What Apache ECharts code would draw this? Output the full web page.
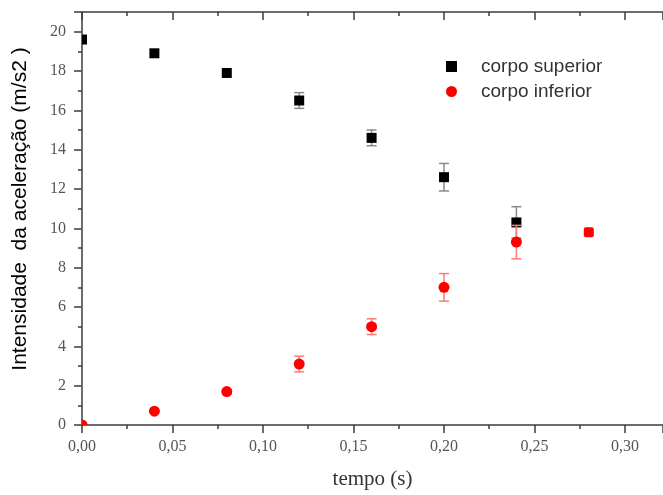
<!DOCTYPE html>
<html><head><meta charset="utf-8">
<script src="https://cdn.jsdelivr.net/npm/echarts@6/dist/echarts.min.js"></script>
<style>html,body{margin:0;padding:0;background:#fff}#c{width:663px;height:495px}</style>
</head><body><div id="c"></div>
<script>
// ---- data ----
const timeValues = [0, 0.04, 0.08, 0.12, 0.16, 0.20, 0.24, 0.28];
const superiorValues = [19.6, 18.9, 17.9, 16.5, 14.6, 12.6, 10.3, null];
const superiorErrors = [0, 0, 0, 0.4, 0.4, 0.7, 0.8, 0];
const inferiorValues = [0, 0.7, 1.7, 3.1, 5.0, 7.0, 9.3, 9.8];
const inferiorErrors = [0, 0, 0, 0.4, 0.4, 0.7, 0.85, 0];
const seriesNames = ['corpo superior', 'corpo inferior'];
const xTickValues = [0, 0.05, 0.10, 0.15, 0.20, 0.25, 0.30];
const xTickLabels = ['0,00', '0,05', '0,10', '0,15', '0,20', '0,25', '0,30'];
const yTickValues = [0, 2, 4, 6, 8, 10, 12, 14, 16, 18, 20];
const yTickLabels = ['0', '2', '4', '6', '8', '10', '12', '14', '16', '18', '20'];
const xAxisTitle = 'tempo (s)';
const yAxisTitle = 'Intensidade  da aceleração (m/s2 )';

// ---- chart ----
const chart = echarts.init(document.getElementById('c'), null, {renderer: 'canvas'});
const serif = '"Liberation Serif", "DejaVu Serif", serif';
const sans = '"Liberation Sans", Arial, sans-serif';
const axisCol = '#3c3c3c';

function labelFor(values, labels) {
  return function (v) {
    for (let i = 0; i < values.length; i++) {
      if (Math.abs(values[i] - v) < 1e-9) return labels[i];
    }
    return '';
  };
}

function build(values, errors) {
  const out = [];
  for (let i = 0; i < timeValues.length; i++) {
    if (values[i] !== null) out.push([timeValues[i], values[i], errors[i], i]);
  }
  return out;
}

function makeRender(shape, color, errColor, lastIndex) {
  return function (params, api) {
    const x = api.value(0), y = api.value(1), e = api.value(2), idx = api.value(3);
    const c = api.coord([x, y]);
    const children = [];
    if (e > 0) {
      const t = api.coord([x, y + e]), b = api.coord([x, y - e]);
      const st = {stroke: errColor, lineWidth: 1.5};
      children.push({type: 'line', shape: {x1: c[0], y1: t[1], x2: c[0], y2: b[1]}, style: st});
      children.push({type: 'line', shape: {x1: c[0] - 5, y1: t[1], x2: c[0] + 5, y2: t[1]}, style: st});
      children.push({type: 'line', shape: {x1: c[0] - 5, y1: b[1], x2: c[0] + 5, y2: b[1]}, style: st});
    }
    const useSquare = shape === 'rect' || idx === lastIndex;
    if (useSquare) {
      children.push({type: 'rect', shape: {x: c[0] - 5, y: c[1] - 5, width: 10, height: 10, r: shape === 'rect' ? 0 : 2}, style: {fill: color}});
    } else {
      children.push({type: 'circle', shape: {cx: c[0], cy: c[1], r: 5.5}, style: {fill: color}});
    }
    return {type: 'group', children: children};
  };
}

const tickLine = {color: axisCol, width: 1.5};
const option = {
  animation: false,
  backgroundColor: '#fff',
  color: ['#000000', '#ff0000'],
  grid: {left: 82, right: 0, top: 12, bottom: 64, containLabel: false},
  legend: {
    data: [{name: seriesNames[0], icon: 'rect'}, {name: seriesNames[1], icon: 'circle'}],
    orient: 'vertical', left: 441, top: 52, itemWidth: 11, itemHeight: 11, itemGap: 6,
    textStyle: {fontFamily: sans, fontSize: 19, color: '#333', padding: [0, 0, 0, 19]}
  },
  xAxis: [{
    type: 'value', min: 0, max: 0.321, interval: 0.05, position: 'bottom',
    name: xAxisTitle, nameLocation: 'middle', nameGap: 44,
    nameTextStyle: {fontFamily: serif, fontSize: 21, color: '#333'},
    axisLine: {show: true, onZero: false, lineStyle: tickLine},
    axisTick: {show: true, inside: false, length: 8, lineStyle: tickLine},
    minorTick: {show: true, splitNumber: 2, length: 4, lineStyle: tickLine},
    splitLine: {show: false},
    axisLabel: {fontFamily: serif, fontSize: 16, color: '#555', margin: 14, showMaxLabel: false,
      formatter: labelFor(xTickValues, xTickLabels)}
  }, {
    type: 'value', min: 0, max: 0.321, interval: 0.05, position: 'top',
    axisLine: {show: true, onZero: false, lineStyle: tickLine},
    axisTick: {show: true, inside: true, length: 8, lineStyle: tickLine},
    minorTick: {show: true, splitNumber: 2, length: 4, lineStyle: tickLine},
    splitLine: {show: false}, axisLabel: {show: false}
  }],
  yAxis: [{
    type: 'value', min: 0, max: 21, interval: 2, position: 'left',
    name: yAxisTitle, nameLocation: 'middle', nameGap: 51,
    nameTextStyle: {fontFamily: sans, fontSize: 21, color: '#000', padding: [0, 0, 0, 19]},
    axisLine: {show: true, onZero: false, lineStyle: tickLine},
    axisTick: {show: true, inside: false, length: 8, lineStyle: tickLine},
    minorTick: {show: true, splitNumber: 2, length: 4, lineStyle: tickLine},
    splitLine: {show: false},
    axisLabel: {fontFamily: serif, fontSize: 16, color: '#555', margin: 16, showMaxLabel: false,
      formatter: labelFor(yTickValues, yTickLabels)}
  }, {
    type: 'value', min: 0, max: 21, interval: 2, position: 'right',
    axisLine: {show: false},
    axisTick: {show: true, inside: true, length: 3, lineStyle: {color: '#666', width: 1.5}},
    splitLine: {show: false}, axisLabel: {show: false}
  }],
  series: [{
    name: seriesNames[0], type: 'custom', clip: true, itemStyle: {color: '#000'},
    data: build(superiorValues, superiorErrors),
    encode: {x: 0, y: 1},
    renderItem: makeRender('rect', '#000000', '#8a8a8a', -1)
  }, {
    name: seriesNames[1], type: 'custom', clip: true, itemStyle: {color: '#ff0000'},
    data: build(inferiorValues, inferiorErrors),
    encode: {x: 0, y: 1},
    renderItem: makeRender('circle', '#ff0000', '#ff7a7a', timeValues.length - 1)
  }]
};
chart.setOption(option);
</script>
</body></html>
